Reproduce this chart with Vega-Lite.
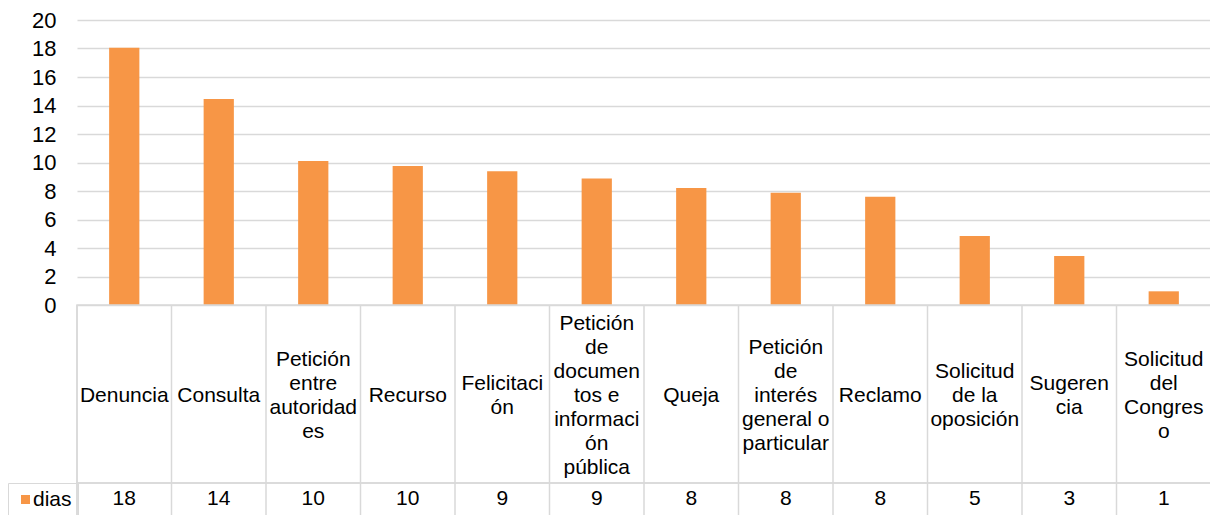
{
  "$schema": "https://vega.github.io/schema/vega-lite/v6.json",
  "padding": {"left": 7, "top": 9, "right": 0, "bottom": 0},
  "background": "white",
  "spacing": 0,
  "bounds": "flush",
  "config": {
    "font": "Liberation Sans",
    "view": {"stroke": null},
    "axis": {"labelFont": "Liberation Sans"},
    "legend": {"labelFont": "Liberation Sans"}
  },
  "data": {
    "values": [
      {"tipo": "Denuncia", "etiqueta": "Denuncia", "dias": 18.05, "serie": "dias"},
      {"tipo": "Consulta", "etiqueta": "Consulta", "dias": 14.46, "serie": "dias"},
      {"tipo": "Petición entre autoridades", "etiqueta": "Petición\nentre\nautoridad\nes", "dias": 10.1, "serie": "dias"},
      {"tipo": "Recurso", "etiqueta": "Recurso", "dias": 9.75, "serie": "dias"},
      {"tipo": "Felicitación", "etiqueta": "Felicitaci\nón", "dias": 9.38, "serie": "dias"},
      {"tipo": "Petición de documentos e información pública", "etiqueta": "Petición\nde\ndocumen\ntos e\ninformaci\nón\npública", "dias": 8.87, "serie": "dias"},
      {"tipo": "Queja", "etiqueta": "Queja", "dias": 8.21, "serie": "dias"},
      {"tipo": "Petición de interés general o particular", "etiqueta": "Petición\nde\ninterés\ngeneral o\nparticular", "dias": 7.88, "serie": "dias"},
      {"tipo": "Reclamo", "etiqueta": "Reclamo", "dias": 7.6, "serie": "dias"},
      {"tipo": "Solicitud de la oposición", "etiqueta": "Solicitud\nde la\noposición", "dias": 4.84, "serie": "dias"},
      {"tipo": "Sugerencia", "etiqueta": "Sugeren\ncia", "dias": 3.44, "serie": "dias"},
      {"tipo": "Solicitud del Congreso", "etiqueta": "Solicitud\ndel\nCongres\no", "dias": 0.96, "serie": "dias"}
    ]
  },
  "vconcat": [
    {
      "width": 1134,
      "height": 285,
      "mark": {"type": "bar", "width": {"band": 0.32}},
      "encoding": {
        "x": {"field": "tipo", "type": "nominal", "sort": null, "scale": {"paddingInner": 0, "paddingOuter": 0}, "axis": null},
        "y": {
          "field": "dias", "type": "quantitative",
          "scale": {"domain": [0, 20], "nice": false},
          "axis": {"values": [0, 2, 4, 6, 8, 10, 12, 14, 16, 18, 20], "title": null, "domain": false, "ticks": false, "labelFontSize": 22, "labelColor": "#000000", "labelPadding": 21, "gridColor": "#D9D9D9", "gridWidth": 1.5}
        },
        "color": {
          "field": "serie", "type": "nominal",
          "scale": {"range": ["#F79646"]},
          "legend": {"orient": "none", "legendX": -69, "legendY": 463, "title": null, "symbolType": "square", "symbolSize": 81, "symbolStrokeWidth": 0, "labelFontSize": 21, "labelColor": "#000000", "padding": 6, "strokeColor": "#D9D9D9", "symbolOffset": 1, "labelOffset": -3}
        }
      }
    },
    {
      "width": 1134,
      "height": 178,
      "view": {"stroke": "#D9D9D9", "strokeWidth": 1.5},
      "encoding": {
        "x": {"field": "tipo", "type": "nominal", "sort": null, "scale": {"paddingInner": 0, "paddingOuter": 0}, "axis": null}
      },
      "layer": [
        {
          "mark": {"type": "rule", "color": "#D9D9D9", "strokeWidth": 1.5},
          "encoding": {"x": {"field": "tipo", "type": "nominal", "sort": null, "bandPosition": 0, "axis": null}}
        },
        {
          "mark": {"type": "text", "fontSize": 21, "lineBreak": "\n", "lineHeight": 24, "fill": "#000000", "baseline": "middle", "align": "center",
            "dy": {"expr": "2 - (length(split(datum.etiqueta, '\\n')) - 1) * 12"}},
          "encoding": {"text": {"field": "etiqueta"}}
        }
      ]
    },
    {
      "width": 1134,
      "height": 34,
      "view": {"stroke": "#D9D9D9", "strokeWidth": 1.5},
      "encoding": {
        "x": {"field": "tipo", "type": "nominal", "sort": null, "scale": {"paddingInner": 0, "paddingOuter": 0}, "axis": null}
      },
      "layer": [
        {
          "mark": {"type": "rule", "color": "#D9D9D9", "strokeWidth": 1.5},
          "encoding": {"x": {"field": "tipo", "type": "nominal", "sort": null, "bandPosition": 0, "axis": null}}
        },
        {
          "mark": {"type": "text", "fontSize": 21, "fill": "#000000", "baseline": "middle", "align": "center", "dy": -1},
          "encoding": {"text": {"field": "dias", "type": "quantitative", "format": ".0f"}}
        }
      ]
    }
  ]
}
